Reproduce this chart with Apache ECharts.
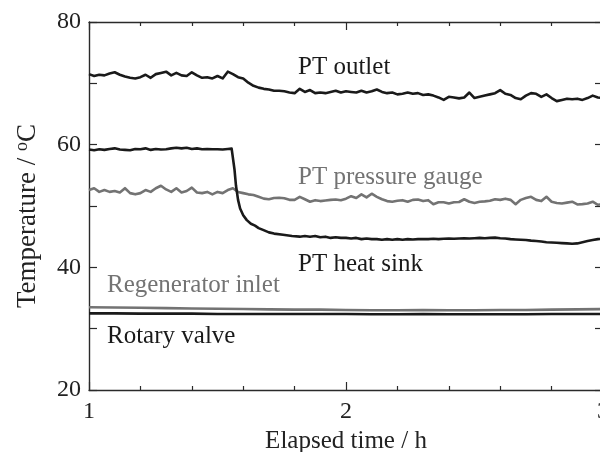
<!DOCTYPE html>
<html>
<head>
<meta charset="utf-8">
<script src="https://cdn.jsdelivr.net/npm/echarts@6/dist/echarts.min.js"></script>
<style>
  html, body { margin: 0; padding: 0; background: #fff; }
  #chart { width: 600px; height: 452px; }
</style>
</head>
<body>
<div id="chart"></div>
<script>
// Sampling times (h) for the noisy traces
const hours = [
  1.00, 1.02, 1.04, 1.06, 1.08, 1.10, 1.12, 1.14, 1.16, 1.18,
  1.20, 1.22, 1.24, 1.26, 1.28, 1.30, 1.32, 1.34, 1.36, 1.38,
  1.40, 1.42, 1.44, 1.46, 1.48, 1.50, 1.52, 1.54, 1.56, 1.58,
  1.60, 1.62, 1.64, 1.66, 1.68, 1.70, 1.72, 1.74, 1.76, 1.78,
  1.80, 1.82, 1.84, 1.86, 1.88, 1.90, 1.92, 1.94, 1.96, 1.98,
  2.00, 2.02, 2.04, 2.06, 2.08, 2.10, 2.12, 2.14, 2.16, 2.18,
  2.20, 2.22, 2.24, 2.26, 2.28, 2.30, 2.32, 2.34, 2.36, 2.38,
  2.40, 2.42, 2.44, 2.46, 2.48, 2.50, 2.52, 2.54, 2.56, 2.58,
  2.60, 2.62, 2.64, 2.66, 2.68, 2.70, 2.72, 2.74, 2.76, 2.78,
  2.80, 2.82, 2.84, 2.86, 2.88, 2.90, 2.92, 2.94, 2.96, 2.98,
  3.00
];

// PT outlet temperature (°C)
const ptOutlet = [
  71.5, 71.2, 71.4, 71.3, 71.6, 71.8, 71.4, 71.1, 70.9, 70.8,
  71.0, 71.4, 70.9, 71.5, 71.7, 71.9, 71.3, 71.7, 71.3, 71.2,
  71.8, 71.3, 70.9, 71.0, 70.8, 71.2, 70.8, 71.9, 71.5, 71.0,
  70.8, 70.1, 69.6, 69.3, 69.1, 69.0, 68.8, 68.8, 68.7, 68.5,
  68.4, 69.1, 68.6, 68.9, 68.4, 68.5, 68.4, 68.6, 68.8, 68.5,
  68.7, 68.6, 68.5, 68.8, 68.5, 68.7, 69.0, 68.6, 68.4, 68.5,
  68.2, 68.3, 68.5, 68.3, 68.4, 68.1, 68.2, 68.0, 67.7, 67.3,
  67.8, 67.7, 67.55, 67.7, 68.5, 67.6, 67.8, 68.0, 68.2, 68.4,
  68.9, 68.3, 68.1, 67.6, 67.4, 68.0, 68.4, 68.3, 67.8, 68.2,
  67.6, 67.1, 67.3, 67.5, 67.4, 67.5, 67.3, 67.6, 68.0, 67.7,
  67.6
];

// PT pressure gauge temperature (°C)
const ptPressureGauge = [
  52.6, 52.9, 52.3, 52.6, 52.3, 52.45, 52.2, 52.9, 52.1, 51.9,
  52.1, 52.6, 52.3, 52.9, 53.3, 52.7, 52.3, 52.9, 52.2, 52.45,
  53.0, 52.2, 52.1, 52.3, 51.9, 52.3, 52.1, 52.6, 52.9, 52.3,
  52.1, 51.9, 51.8, 51.5, 51.2, 51.1, 51.3, 51.35, 51.25, 51.0,
  51.0, 51.5, 51.1, 50.7, 50.95, 50.8, 50.9, 51.0, 51.05, 50.95,
  51.2, 51.6, 51.3, 51.9, 51.4, 52.0, 51.5, 51.1, 50.8, 50.7,
  50.85, 50.95, 50.7, 51.0, 51.05, 50.8, 50.95, 50.3, 50.6, 50.6,
  50.4, 50.6, 50.65, 51.1, 50.7, 50.5, 50.7, 50.75, 50.85, 51.1,
  51.0, 51.2, 51.0, 50.3, 51.0, 51.3, 51.5, 51.0, 50.8, 51.5,
  50.7, 50.5, 50.4, 50.55, 50.7, 50.25, 50.3, 50.4, 50.7, 50.2,
  50.3
];

// PT heat sink: denser sampling around the step change
const sinkHours = [
  1.00, 1.02, 1.04, 1.06, 1.08, 1.10, 1.12, 1.14, 1.16, 1.18,
  1.20, 1.22, 1.24, 1.26, 1.28, 1.30, 1.32, 1.34, 1.36, 1.38,
  1.40, 1.42, 1.44, 1.46, 1.48, 1.50, 1.52, 1.54,
  1.555, 1.560, 1.566, 1.572, 1.580, 1.588, 1.600, 1.614, 1.630,
  1.646, 1.660, 1.677, 1.700, 1.720, 1.755, 1.790, 1.820,
  1.84, 1.86, 1.88, 1.90, 1.92, 1.94, 1.96, 1.98,
  2.00, 2.02, 2.04, 2.06, 2.08, 2.10, 2.12, 2.14, 2.16, 2.18,
  2.20, 2.22, 2.24, 2.26, 2.28, 2.30, 2.32, 2.34, 2.36, 2.38,
  2.40, 2.42, 2.44, 2.46, 2.48, 2.50, 2.52, 2.54, 2.56, 2.58,
  2.60, 2.62, 2.64, 2.66, 2.68, 2.70, 2.72, 2.74, 2.76, 2.78,
  2.80, 2.82, 2.84, 2.86, 2.88, 2.90, 2.92, 2.94, 2.96, 2.98,
  3.00
];
const ptHeatSink = [
  59.2, 59.1, 59.25, 59.15, 59.3, 59.4, 59.2, 59.15, 59.1, 59.3,
  59.25, 59.4, 59.15, 59.3, 59.2, 59.25, 59.4, 59.5, 59.4, 59.5,
  59.3, 59.4, 59.25, 59.3, 59.25, 59.25, 59.2, 59.3,
  59.35, 59.3, 56.0, 53.3, 51.0, 49.6, 48.5, 47.7, 47.1,
  46.8, 46.4, 46.1, 45.7, 45.5, 45.3, 45.1, 45.0,
  45.1, 45.0, 45.1, 44.9, 45.0, 44.8, 44.9, 44.8,
  44.8, 44.7, 44.8, 44.6, 44.7, 44.6, 44.6, 44.5, 44.6, 44.5,
  44.6, 44.5, 44.6, 44.55, 44.6, 44.6, 44.6, 44.65, 44.6, 44.65,
  44.7, 44.65, 44.7, 44.75, 44.7, 44.75, 44.8, 44.75, 44.8, 44.85,
  44.75, 44.7, 44.6, 44.55, 44.5, 44.45, 44.35, 44.3, 44.2, 44.1,
  44.05, 44.0, 43.95, 43.9, 43.85, 43.9, 44.1, 44.3, 44.45, 44.6,
  44.65
];

// Slowly varying traces, coarser sampling
const flatHours = [
  1.0, 1.1, 1.2, 1.3, 1.4, 1.5, 1.6, 1.7, 1.8, 1.9,
  2.0, 2.1, 2.2, 2.3, 2.4, 2.5, 2.6, 2.7, 2.8, 2.9, 3.0
];
const regeneratorInlet = [
  33.5, 33.45, 33.4, 33.35, 33.3, 33.25, 33.2, 33.15, 33.1, 33.1,
  33.05, 33.0, 33.0, 33.05, 33.0, 33.0, 33.05, 33.05, 33.1, 33.15, 33.2
];
const rotaryValve = [
  32.5, 32.5, 32.45, 32.45, 32.45, 32.4, 32.4, 32.4, 32.4, 32.4,
  32.4, 32.35, 32.35, 32.4, 32.35, 32.35, 32.35, 32.35, 32.4, 32.4, 32.4
];

const xTicks = { min: 1, max: 3, interval: 1 };
const yTicks = { min: 20, max: 80, interval: 10, labelStep: 20 };

const SERIF = '"Liberation Serif", "Times New Roman", serif';
const BLACK = '#1a1a1a';
const GRAY = '#737373';
const AXIS = '#2a2a2a';

function pairs(xs, ys) {
  return xs.map((x, i) => [x, ys[i]]);
}

function lineSeries(name, xs, ys, color) {
  return {
    name: name,
    type: 'line',
    data: pairs(xs, ys),
    showSymbol: false,
    symbol: 'none',
    smooth: false,
    xAxisIndex: 0,
    yAxisIndex: 0,
    lineStyle: { color: color, width: 2.6, join: 'round' },
    z: 3,
    silent: true,
    animation: false
  };
}

const axisLineStyle = { show: true, lineStyle: { color: AXIS, width: 1.4 } };

const chart = echarts.init(document.getElementById('chart'), null, { renderer: 'canvas' });

const option = {
  animation: false,
  backgroundColor: '#ffffff',
  textStyle: { fontFamily: SERIF },
  grid: { left: 89, top: 22, width: 514, height: 368, containLabel: false, outerBoundsMode: 'none' },
  xAxis: [
    {
      type: 'value', position: 'bottom',
      min: xTicks.min, max: xTicks.max, interval: xTicks.interval,
      axisLine: axisLineStyle,
      axisTick: { show: true, inside: true, length: 8, lineStyle: { color: AXIS, width: 1.2 } },
      minorTick: { show: true, splitNumber: 5, length: 4, lineStyle: { color: AXIS, width: 1.2 } },
      splitLine: { show: false },
      axisLabel: { fontSize: 24, color: '#222', margin: 10, fontFamily: SERIF },
      name: 'Elapsed time / h',
      nameLocation: 'middle',
      nameGap: 38,
      nameTextStyle: { fontSize: 25, color: '#222', fontFamily: SERIF }
    },
    {
      type: 'value', position: 'top',
      min: xTicks.min, max: xTicks.max, interval: xTicks.interval,
      axisLine: axisLineStyle,
      axisTick: { show: true, inside: true, length: 8, lineStyle: { color: AXIS, width: 1.2 } },
      minorTick: { show: true, splitNumber: 5, length: 4, lineStyle: { color: AXIS, width: 1.2 } },
      splitLine: { show: false },
      axisLabel: { show: false }
    }
  ],
  yAxis: [
    {
      type: 'value', position: 'left',
      min: yTicks.min, max: yTicks.max, interval: yTicks.interval,
      axisLine: axisLineStyle,
      axisTick: { show: true, inside: true, length: 8, lineStyle: { color: AXIS, width: 1.2 } },
      splitLine: { show: false },
      axisLabel: {
        fontSize: 24, color: '#222', margin: 8, fontFamily: SERIF,
        formatter: v => (v % yTicks.labelStep === 0 ? String(v) : '')
      },
      name: 'Temperature / {sup|o}C',
      nameLocation: 'middle',
      nameRotate: 90,
      nameGap: 47,
      nameTextStyle: {
        fontSize: 27, color: '#222', fontFamily: SERIF,
        padding: [0, 20, 0, 0],
        rich: {
          sup: { fontSize: 18, color: '#222', fontFamily: SERIF, verticalAlign: 'top', padding: [0, 0, 11, 0] }
        }
      }
    },
    {
      type: 'value', position: 'right',
      min: yTicks.min, max: yTicks.max, interval: yTicks.interval,
      axisLine: axisLineStyle,
      axisTick: { show: true, inside: true, length: 8, lineStyle: { color: AXIS, width: 1.2 } },
      splitLine: { show: false },
      axisLabel: { show: false }
    }
  ],
  series: [
    lineSeries('Regenerator inlet', flatHours, regeneratorInlet, GRAY),
    lineSeries('Rotary valve', flatHours, rotaryValve, BLACK),
    lineSeries('PT pressure gauge', hours, ptPressureGauge, GRAY),
    lineSeries('PT heat sink', sinkHours, ptHeatSink, BLACK),
    lineSeries('PT outlet', hours, ptOutlet, BLACK)
  ],
  graphic: [
    { type: 'text', left: 298, top: 55, style: { text: 'PT outlet', fill: BLACK, font: '25px ' + SERIF } },
    { type: 'text', left: 298, top: 165, style: { text: 'PT pressure gauge', fill: GRAY, font: '25px ' + SERIF } },
    { type: 'text', left: 298, top: 252, style: { text: 'PT heat sink', fill: BLACK, font: '25px ' + SERIF } },
    { type: 'text', left: 107, top: 273, style: { text: 'Regenerator inlet', fill: GRAY, font: '25px ' + SERIF } },
    { type: 'text', left: 107, top: 324, style: { text: 'Rotary valve', fill: BLACK, font: '25px ' + SERIF } }
  ]
};

chart.setOption(option);
</script>
</body>
</html>
